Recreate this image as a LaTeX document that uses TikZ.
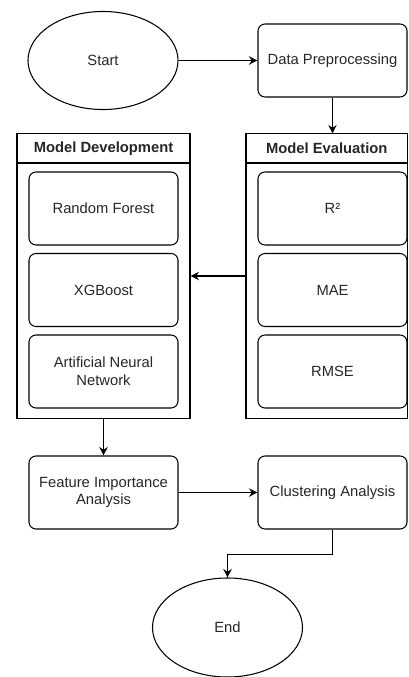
\documentclass[tikz,border=0pt]{standalone}
\usepackage{fontspec}
\setmainfont{Liberation Sans}
\usepackage{tikz}
\usetikzlibrary{shapes,arrows.meta,positioning,calc}

\tikzset{
  flowtext/.style={font=\fontsize{10.5}{12.6}\selectfont, align=center, text=black!85},
  terminal/.style={ellipse, draw, flowtext, inner sep=0pt, minimum width=3.75cm, minimum height=2.45cm},
  process/.style={rectangle, rounded corners=5pt, draw, flowtext, inner sep=0pt, minimum width=3.725cm, minimum height=1.825cm},
  panel/.style={rectangle, draw, inner sep=0pt, minimum height=7.1cm},
  panelhead/.style={rectangle, draw, flowtext, font=\fontsize{10.5}{12.6}\selectfont\bfseries, inner sep=0pt, minimum height=0.725cm, anchor=north}
}

\begin{document}
\begin{tikzpicture}[x=0.025cm, y=-0.025cm, line width=0.75pt, >={Stealth[length=6pt,width=6pt]}]
    \useasboundingbox (0,0) rectangle (408,677);

    % Start and preprocessing
    \node[terminal] (start) at (103,60.5) {Start};
    \node[process] (prep) at (332.5,60.5) {Data Preprocessing};

    % Model Development panel
    \node[panel, minimum width=4.325cm] (dev) at (103.5,276) {};
    \node[panelhead, minimum width=4.325cm] (devhead) at (dev.north) {Model Development};
    \node[process] (rf) at (103.5,208.5) {Random Forest};
    \node[process] (xgb) at (103.5,290) {XGBoost};
    \node[process] (ann) at (103.5,371.5) {Artificial Neural\\Network};

    % Model Evaluation panel
    \node[panel, minimum width=4.0375cm] (eval) at (326.75,276) {};
    \node[panelhead, minimum width=4.0375cm] (evalhead) at (eval.north) {Model Evaluation};
    \node[process] (rsq) at (332.5,208.5) {R²};
    \node[process] (mae) at (332.5,290) {MAE};
    \node[process] (rmse) at (332.5,371.5) {RMSE};

    % Analysis and end
    \node[process] (feat) at (103.5,492.5) {Feature Importance\\Analysis};
    \node[process] (clus) at (332.5,492.5) {Clustering Analysis};
    \node[terminal, minimum height=2.475cm] (end) at (227.5,627.5) {End};

    % Connectors
    \draw[->] (start.east) -- (prep.west);
    \draw[->] (prep.south) -- (prep.south |- eval.north);
    \draw[->] (eval.west) -- (dev.east);
    \draw[->] (dev.south) -- (feat.north);
    \draw[->] (feat.east) -- (clus.west);
    \draw[->] (clus.south) -- ++(0,25) -| (end.north);
\end{tikzpicture}
\end{document}
